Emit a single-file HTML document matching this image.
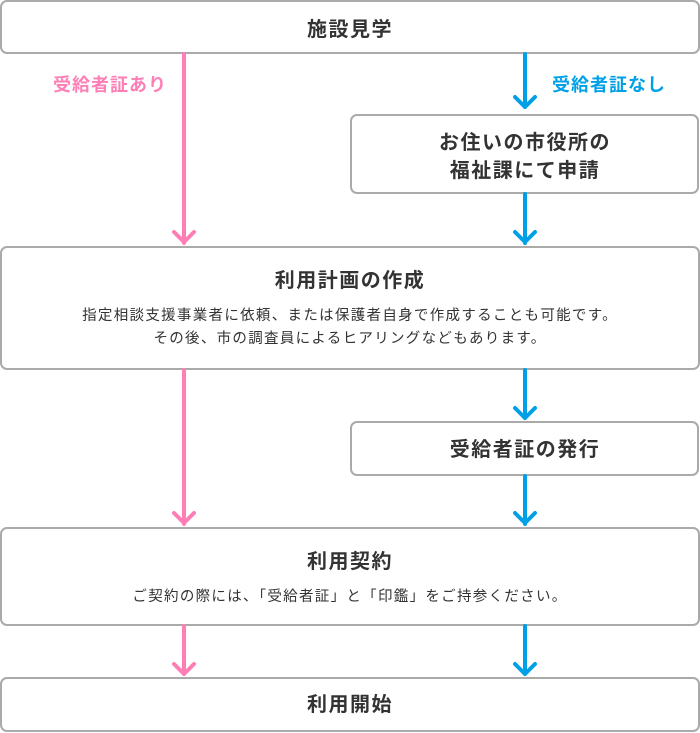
<!DOCTYPE html>
<html><head><meta charset="utf-8"><style>
html,body{margin:0;padding:0;background:#fff;}
svg{display:block;}
text{font-family:"Liberation Sans","Noto Sans CJK JP",sans-serif;fill:#333;}
.t{font-size:20px;font-weight:bold;letter-spacing:1.5px;}
.s{font-size:14.5px;letter-spacing:1.3px;}
</style></head><body>
<svg width="700" height="733" viewBox="0 0 700 733" xmlns="http://www.w3.org/2000/svg">
<g fill="#fff" stroke="#aaa" stroke-width="2">
<rect x="1" y="1" width="698" height="52" rx="6"/>
<rect x="351" y="115" width="347" height="78" rx="6"/>
<rect x="1" y="247" width="698" height="122" rx="6"/>
<rect x="351" y="422" width="347" height="53" rx="6"/>
<rect x="1" y="528" width="698" height="97" rx="6"/>
<rect x="1" y="678" width="698" height="53" rx="6"/>
</g>
<g stroke="#ff7eb6" stroke-width="4" fill="none" stroke-linecap="round" stroke-linejoin="round">
<line x1="184" y1="54" x2="184" y2="243"/><polyline points="174,232 184,242 194,232"/>
<line x1="184" y1="370" x2="184" y2="524"/><polyline points="174,513 184,523 194,513"/>
<line x1="184" y1="626" x2="184" y2="674"/><polyline points="174,664 184,674 194,664"/>
</g>
<g stroke="#00a0e9" stroke-width="4" fill="none" stroke-linecap="round" stroke-linejoin="round">
<line x1="525" y1="54" x2="525" y2="107"/><polyline points="515,97 525,107 535,97"/>
<line x1="525" y1="194" x2="525" y2="243"/><polyline points="515,232 525,242 535,232"/>
<line x1="525" y1="370" x2="525" y2="418"/><polyline points="515,408 525,418 535,408"/>
<line x1="525" y1="476" x2="525" y2="524"/><polyline points="515,513 525,523 535,513"/>
<line x1="525" y1="626" x2="525" y2="674"/><polyline points="515,664 525,674 535,664"/>
</g>
<text x="110" y="91" class="t" text-anchor="middle" style="fill:#ff7eb6;font-size:18px;letter-spacing:1px">受給者証あり</text>
<text x="609" y="91" class="t" text-anchor="middle" style="fill:#00a0e9;font-size:18px;letter-spacing:1px">受給者証なし</text>
<text x="350" y="36" class="t" text-anchor="middle">施設見学</text>
<text x="525" y="149" class="t" text-anchor="middle">お住いの市役所の</text>
<text x="525" y="177" class="t" text-anchor="middle">福祉課にて申請</text>
<text x="350" y="287" class="t" text-anchor="middle">利用計画の作成</text>
<text x="350" y="320" class="s" text-anchor="middle">指定相談支援事業者に依頼、または保護者自身で作成することも可能です。</text>
<text x="350" y="343" class="s" text-anchor="middle">その後、市の調査員によるヒアリングなどもあります。</text>
<text x="525" y="456" class="t" text-anchor="middle">受給者証の発行</text>
<text x="350" y="568" class="t" text-anchor="middle">利用契約</text>
<text x="350" y="601" class="s" text-anchor="middle">ご契約の際には、「受給者証」と「印鑑」をご持参ください。</text>
<text x="350" y="711" class="t" text-anchor="middle">利用開始</text>
</svg>
</body></html>
